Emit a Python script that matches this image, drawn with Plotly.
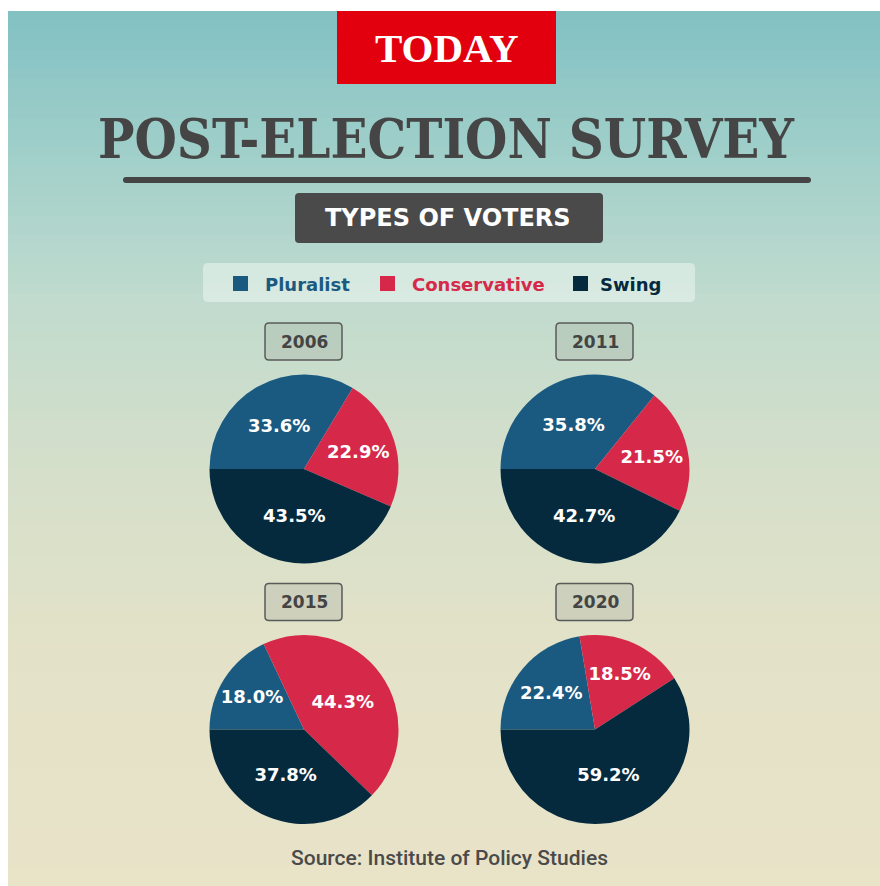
import plotly.graph_objects as go

# ---------------- data ----------------
years = ["2006", "2011", "2015", "2020"]
categories = ["Pluralist", "Conservative", "Swing"]
pluralist = [33.6, 35.8, 18.0, 22.4]
conservative = [22.9, 21.5, 44.3, 18.5]
swing = [43.5, 42.7, 37.8, 59.2]
colors = ["#1b5a80", "#d6294a", "#052a3e"]

title_text = "POST-ELECTION SURVEY"
subtitle_text = "TYPES OF VOTERS"
brand_text = "TODAY"
source_text = "Source: Institute of Policy Studies"

W, H = 880, 886


def px(x):
    return x / W


def py(y):
    return 1 - y / H


def rrect(x0, y0, x1, y1, r):
    """rounded rectangle path in paper coords from pixel box"""
    pts = [
        f"M {px(x0 + r)} {py(y0)}",
        f"L {px(x1 - r)} {py(y0)}",
        f"Q {px(x1)} {py(y0)} {px(x1)} {py(y0 + r)}",
        f"L {px(x1)} {py(y1 - r)}",
        f"Q {px(x1)} {py(y1)} {px(x1 - r)} {py(y1)}",
        f"L {px(x0 + r)} {py(y1)}",
        f"Q {px(x0)} {py(y1)} {px(x0)} {py(y1 - r)}",
        f"L {px(x0)} {py(y0 + r)}",
        f"Q {px(x0)} {py(y0)} {px(x0 + r)} {py(y0)}",
        "Z",
    ]
    return " ".join(pts)


def lerp_color(stops, y):
    for (ya, ca), (yb, cb) in zip(stops, stops[1:]):
        if ya <= y <= yb:
            t = (y - ya) / (yb - ya)
            c = [round(a + (b - a) * t) for a, b in zip(ca, cb)]
            return f"rgb({c[0]},{c[1]},{c[2]})"
    c = stops[-1][1]
    return f"rgb({c[0]},{c[1]},{c[2]})"


bg_stops = [
    (11, (130, 193, 195)),
    (160, (162, 208, 202)),
    (300, (193, 219, 206)),
    (470, (213, 223, 202)),
    (650, (227, 226, 200)),
    (886, (233, 227, 200)),
]

shapes = []
# gradient background
top, bottom = 11, 886
n = 90
step = (bottom - top) / n
for i in range(n):
    y0 = top + i * step
    y1 = y0 + step + 0.8
    col = lerp_color(bg_stops, y0 + step / 2)
    shapes.append(dict(type="rect", xref="paper", yref="paper",
                       x0=px(8), x1=px(880), y0=py(min(y1, bottom)), y1=py(y0),
                       fillcolor=col, line=dict(width=0), layer="below"))

# TODAY box
shapes.append(dict(type="rect", xref="paper", yref="paper",
                   x0=px(337), x1=px(556), y0=py(84), y1=py(11),
                   fillcolor="#e2000f", line=dict(width=0), layer="below"))
# title underline
shapes.append(dict(type="path", xref="paper", yref="paper",
                   path=rrect(123, 177, 811, 183, 3),
                   fillcolor="#454545", line=dict(width=0), layer="below"))
# subtitle box
shapes.append(dict(type="path", xref="paper", yref="paper",
                   path=rrect(295, 193, 603, 243, 4),
                   fillcolor="#4a4a4a", line=dict(width=0), layer="below"))
# legend box
shapes.append(dict(type="path", xref="paper", yref="paper",
                   path=rrect(203, 263, 695, 302, 5),
                   fillcolor="rgba(235,245,240,0.55)", line=dict(width=0), layer="below"))
# legend squares
leg_sq_x = [233, 380, 573]
for xs, c in zip(leg_sq_x, colors):
    shapes.append(dict(type="rect", xref="paper", yref="paper",
                       x0=px(xs), x1=px(xs + 15), y0=py(291), y1=py(276),
                       fillcolor=c, line=dict(width=0), layer="below"))

annotations = [
    dict(text=brand_text, x=px(446.5), y=py(48), showarrow=False,
         font=dict(family="Liberation Serif", size=41, color="white", weight="bold"),
         xanchor="center", yanchor="middle"),
    dict(text=title_text, x=px(446), y=py(139), showarrow=False,
         font=dict(family="DejaVu Serif Condensed", size=54, color="#454545", weight="bold"),
         xanchor="center", yanchor="middle"),
    dict(text=subtitle_text, x=px(448), y=py(218), showarrow=False,
         font=dict(family="DejaVu Sans", size=24, color="white", weight="bold"),
         xanchor="center", yanchor="middle"),
    dict(text=source_text, x=px(449), y=py(858), showarrow=False,
         font=dict(family="Roboto", size=21, color="#4a4a4a", weight=500),
         xanchor="center", yanchor="middle"),
]
leg_text_x = [263, 410, 598]
for xt, name, c in zip(leg_text_x, categories, colors):
    annotations.append(dict(text=name, x=px(xt), y=py(284), showarrow=False,
                            font=dict(family="DejaVu Sans", size=18, color=c, weight="bold"),
                            xanchor="left", yanchor="middle"))

# pie layout: centres and year boxes (pixels)
centers = [(304, 469), (595, 469), (304, 729.5), (595, 729.5)]
radius = 94.5
fig = go.Figure()
for i, yr in enumerate(years):
    cx, cy = centers[i]
    vals = [pluralist[i], conservative[i], swing[i]]
    fig.add_trace(go.Pie(
        labels=categories, values=vals, sort=False, direction="clockwise",
        rotation=270, marker=dict(colors=colors, line=dict(width=0)),
        texttemplate="%{value:.1f}%", textposition="inside",
        insidetextorientation="horizontal",
        textfont=dict(family="DejaVu Sans", size=18, color="white", weight="bold"),
        hoverinfo="label+value", showlegend=False, name=yr,
        domain=dict(x=[px(cx - radius), px(cx + radius)],
                    y=[py(cy + radius), py(cy - radius)]),
    ))
    # year box
    bx0, by0 = cx - 39, cy - 146
    shapes.append(dict(type="path", xref="paper", yref="paper",
                       path=rrect(bx0, by0, bx0 + 77, by0 + 37, 4),
                       fillcolor="rgba(150,160,150,0.25)",
                       line=dict(width=1.5, color="#5a5a5a"), layer="below"))
    annotations.append(dict(text=yr, x=px(cx), y=py(by0 + 18.5), showarrow=False,
                            font=dict(family="DejaVu Sans", size=17, color="#444444", weight="bold"),
                            xanchor="center", yanchor="middle"))

fig.update_layout(
    width=W, height=H, margin=dict(l=0, r=0, t=0, b=0),
    paper_bgcolor="white", plot_bgcolor="rgba(0,0,0,0)",
    shapes=shapes, annotations=annotations, showlegend=False,
)
fig.write_html("out.html")
